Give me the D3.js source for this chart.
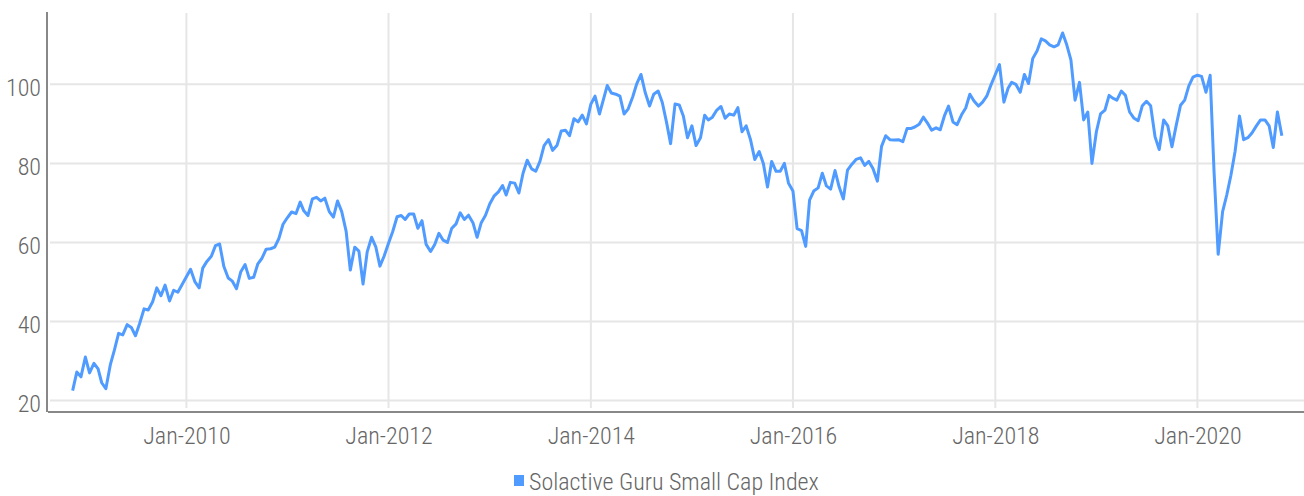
<!DOCTYPE html>
<html>
<head>
<meta charset="utf-8">
<script src="https://cdn.jsdelivr.net/npm/d3@7"></script>
<style>
  body { margin: 0; background: #fff; }
  text { font-family: "Liberation Sans Narrow", "Roboto Condensed", "Roboto", sans-serif; font-weight: 300; fill: #666; }
</style>
</head>
<body>
<div id="ChartArea"></div>
<script>
// ------------------------------------------------------------------
// index level, one value on the 1st and 16th of each month
// ------------------------------------------------------------------
const seriesName = "Solactive Guru Small Cap Index"
const firstDate = "2008-11-16"   // then semi-monthly (1st / 16th)

const indexValues = [
  // 2008-11-16 ..
  22.5, 27.2, 26, 31, 27, 29.4, 28, 24.5, 23, 29,
  32.8, 37, 36.6, 39.2, 38.5, 36.4, 39.5, 43.2, 42.9, 45,
  48.5, 46.5, 49.2, 45.2, 47.9, 47.4, 49.3, 51.3, 53.2, 50,
  48.5, 53.5, 55.2, 56.5, 59.2, 59.6, 54, 51, 50.2, 48.3,
  52.5, 54.4, 50.9, 51.2, 54.6, 56, 58.3,
  // 2010-12-16 ..
  58.4, 58.8, 61, 64.6, 66.3, 67.7, 67.3, 70.2, 68, 66.8,
  71, 71.4, 70.5, 71.2, 67.8, 66.4, 70.5, 67.8, 62.8, 53,
  58.8, 57.8, 49.5, 57.6, 61.3, 58.9, 54, 56.5, 59.8, 62.7,
  66.5, 66.8, 65.8, 67.2, 67.2, 63.6, 65.5, 59.5, 57.7, 59.5,
  62.3, 60.6, 60, 63.5, 64.7, 67.5, 65.8, 66.9,
  // 2012-12-16 ..
  65, 61.3, 65, 66.8, 69.8, 71.7, 72.8, 74.4, 72, 75.2,
  75, 72.5, 77.5, 80.8, 78.6, 78, 80.5, 84.5, 86, 83.3,
  84.6, 88.2, 88.4, 87, 91.3, 90.5, 92.2, 90, 95, 97,
  92.5, 96.3, 99.7, 97.8, 97.5, 97, 92.5, 93.8, 96.8, 100.2,
  102.5, 98, 94.5, 97.5, 98.3, 95.4, 90.5,
  // 2014-12-01 ..
  85, 95, 94.8, 92, 86.5, 89.5, 84.5, 86.5, 92.2, 91,
  91.7, 93.5, 94.4, 91.4, 92.5, 92.2, 94.1, 88, 89.5, 85.9,
  81, 83, 80, 74, 80.5, 78, 78, 80, 75, 73,
  63.5, 63, 59, 70.7, 73, 73.8, 77.5, 74.3, 73.5, 78.2,
  74, 71, 78.3, 79.8, 81, 81.4, 79.5, 80.5,
  // 2016-12-16 ..
  78.7, 75.5, 84.3, 87, 86, 85.9, 86, 85.5, 88.8, 88.8,
  89.2, 89.9, 91.7, 90.2, 88.4, 89, 88.5, 92, 94.5, 90.5,
  89.8, 92.3, 94, 97.5, 95.8, 94.5, 95.5, 97, 99.8, 102.5,
  105, 95.5, 99, 100.5, 100, 98, 102.5, 100.2, 106.5, 108.5,
  111.5, 111, 110, 109.5, 110, 113, 110,
  // 2018-12-01 ..
  106.2, 96, 100.5, 91, 93, 80, 88, 92.5, 93.5, 97.2,
  96.5, 96, 98.3, 97.2, 93, 91.5, 90.8, 94.6, 95.7, 94.6,
  86.7, 83.5, 91, 89.5, 84.2, 89.5, 94.7, 96, 99.6, 101.8,
  102.3, 102, 98, 102.3, 78, 57, 67.8, 72, 77, 83,
  92, 86, 86.5, 87.7, 89.5, 91, 91, 89.5, 84, 93,
  87
]

const yTicks = [20, 40, 60, 80, 100]
const xTickYears = [2010, 2012, 2014, 2016, 2018, 2020]
const xDomain = ["2008-08-19", "2021-01-20"]
const yDomain = [17.1, 118.3]

// ------------------------------------------------------------------
function write_line_chart (values)
{
  const W = 1304, H = 496
  const left = 48, right = 1304, top = 12, bottom = 412

  const parse = d3.timeParse("%Y-%m-%d")
  const start = parse(firstDate)

  // 1st / 16th of each month
  const data = values.map(function(v, i) {
    const m = Math.floor((i + 1) / 2)
    const d = d3.timeMonth.offset(new Date(start.getFullYear(), start.getMonth(), 1), m)
    d.setDate(i % 2 === 1 ? 1 : 16)
    return {date: d, value: v}
  })

  const x = d3.scaleTime()
      .domain(xDomain.map(parse))
      .range([left, right])

  const y = d3.scaleLinear()
      .domain(yDomain)
      .range([bottom, top])

  const svg = d3.select("#ChartArea").append("svg")
      .attr("width", W)
      .attr("height", H)

  const xTicks = xTickYears.map(function(yr) { return new Date(yr, 0, 1) })

  // grid
  svg.append("g").selectAll("line")
    .data(yTicks)
    .enter().append("line")
    .attr("x1", left + 2)
    .attr("x2", right)
    .attr("y1", function(d) { return y(d) })
    .attr("y2", function(d) { return y(d) })
    .attr("stroke", "#e6e6e6")
    .attr("stroke-width", 2)

  svg.append("g").selectAll("line")
    .data(xTicks)
    .enter().append("line")
    .attr("x1", function(d) { return x(d) })
    .attr("x2", function(d) { return x(d) })
    .attr("y1", top + 1)
    .attr("y2", bottom - 4)
    .attr("stroke", "#e6e6e6")
    .attr("stroke-width", 2)

  // the line
  const line = d3.line()
      .x(function(d) { return x(d.date) })
      .y(function(d) { return y(d.value) })

  svg.append("path")
    .datum(data)
    .attr("fill", "none")
    .attr("stroke", "#4f9bff")
    .attr("stroke-width", 3)
    .attr("stroke-linejoin", "round")
    .attr("d", line)

  // axes
  const yAxis = svg.append("g")
      .attr("transform", "translate(" + left + ",0)")
      .call(d3.axisLeft(y).tickValues(yTicks).tickSize(0).tickPadding(7))
  yAxis.select(".domain").remove()
  yAxis.selectAll("text")
      .attr("font-size", 24)
      .attr("dy", "0.45em")
      .attr("font-family", null)
      .attr("fill", "#666")

  const xAxis = svg.append("g")
      .attr("transform", "translate(0," + bottom + ")")
      .call(d3.axisBottom(x).tickValues(xTicks).tickSize(0).tickPadding(15)
        .tickFormat(d3.timeFormat("%b-%Y")))
  xAxis.select(".domain").remove()
  xAxis.selectAll("text")
      .attr("font-size", 24)
      .attr("font-family", null)
      .attr("fill", "#666")

  svg.append("line")
    .attr("x1", left - 1).attr("x2", left - 1)
    .attr("y1", top).attr("y2", bottom)
    .attr("stroke", "#888").attr("stroke-width", 2)

  svg.append("line")
    .attr("x1", left).attr("x2", right)
    .attr("y1", bottom).attr("y2", bottom)
    .attr("stroke", "#888").attr("stroke-width", 2)

  // legend
  const lg = svg.append("g").attr("transform", "translate(514,475)")
  lg.append("rect")
    .attr("width", 10).attr("height", 11)
    .attr("fill", "#4f9bff")
  lg.append("text")
    .attr("x", 15).attr("y", 15)
    .attr("font-size", 24)
    .text(seriesName)
}

write_line_chart(indexValues)
</script>
</body>
</html>
